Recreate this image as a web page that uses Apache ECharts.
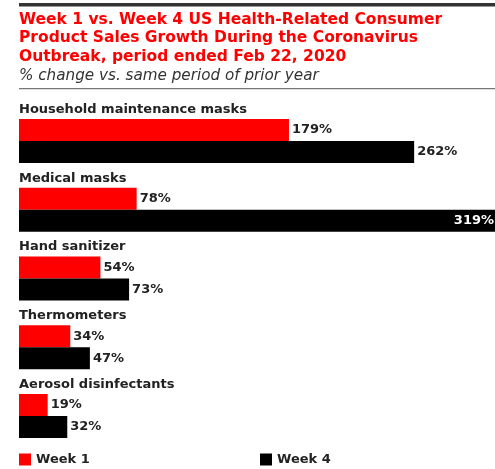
<!DOCTYPE html>
<html>
<head>
<meta charset="utf-8">
<script src="https://cdn.jsdelivr.net/npm/echarts@6/dist/echarts.min.js"></script>
<style>
html,body{margin:0;padding:0;background:#fff;}
#chart{width:495px;height:469px;}
</style>
</head>
<body>
<div id="chart"></div>
<script>
const categories = ['Household maintenance masks', 'Medical masks', 'Hand sanitizer', 'Thermometers', 'Aerosol disinfectants'];
const week1 = [179, 78, 54, 34, 19];
const week4 = [262, 319, 73, 47, 32];
const seriesNames = ['Week 1', 'Week 4'];
const titleText = 'Week 1 vs. Week 4 US Health-Related Consumer\nProduct Sales Growth During the Coronavirus\nOutbreak, period ended Feb 22, 2020';
const subtitleText = '% change vs. same period of prior year';

const FONT = 'DejaVu Sans';
const RED = '#ff0000';
const BLACK = '#000000';
const XMAX = 315.6;

const chart = echarts.init(document.getElementById('chart'), null, {renderer: 'canvas'});

const labelBase = {
  show: true, position: 'right', distance: 3,
  fontFamily: FONT, fontWeight: 'bold', fontSize: 13, color: '#222',
  formatter: p => p.value + '%'
};

const week4Data = week4.map(v => v > XMAX ? {
  value: v,
  label: {position: 'insideRight', color: '#fff', distance: 1}
} : v);

chart.setOption({
  backgroundColor: '#fff',
  animation: false,
  title: [
    {
      text: titleText, left: 19, top: 10.5, padding: 0,
      textStyle: {fontFamily: FONT, fontWeight: 'bold', fontSize: 15.5, color: '#f00', lineHeight: 18.5}
    },
    {
      text: subtitleText, left: 19, top: 67, padding: 0,
      textStyle: {fontFamily: FONT, fontWeight: 'normal', fontStyle: 'italic', fontSize: 15.2, color: '#333', lineHeight: 18}
    }
  ],
  graphic: [
    {type: 'rect', shape: {x: 19, y: 3, width: 476, height: 3.5}, style: {fill: '#333'}},
    {type: 'rect', shape: {x: 19, y: 88, width: 476, height: 1.2}, style: {fill: '#777'}}
  ],
  legend: [
    {data: [seriesNames[0]], left: 19, top: 453, padding: 0, itemWidth: 12, itemHeight: 12, icon: 'rect', itemGap: 5,
     textStyle: {fontFamily: FONT, fontWeight: 'bold', fontSize: 13, color: '#222'}},
    {data: [seriesNames[1]], left: 260, top: 453, padding: 0, itemWidth: 12, itemHeight: 12, icon: 'rect', itemGap: 5,
     textStyle: {fontFamily: FONT, fontWeight: 'bold', fontSize: 13, color: '#222'}}
  ],
  grid: {left: 19, right: 0, top: 106.6, bottom: 18.6, containLabel: false},
  xAxis: {type: 'value', min: 0, max: XMAX, show: false},
  yAxis: {
    type: 'category', data: categories, inverse: true,
    axisLine: {show: false}, axisTick: {show: false}, splitLine: {show: false},
    axisLabel: {
      inside: true, margin: 0, align: 'left', verticalAlign: 'bottom',
      padding: [0, 0, 25, 0],
      fontFamily: FONT, fontWeight: 'bold', fontSize: 13, color: '#222'
    }
  },
  series: [
    {name: seriesNames[0], type: 'bar', data: week1, barWidth: 22, barGap: '0%',
     itemStyle: {color: RED}, label: labelBase},
    {name: seriesNames[1], type: 'bar', data: week4Data, barWidth: 22, barGap: '0%',
     itemStyle: {color: BLACK}, label: labelBase}
  ]
});
</script>
</body>
</html>
